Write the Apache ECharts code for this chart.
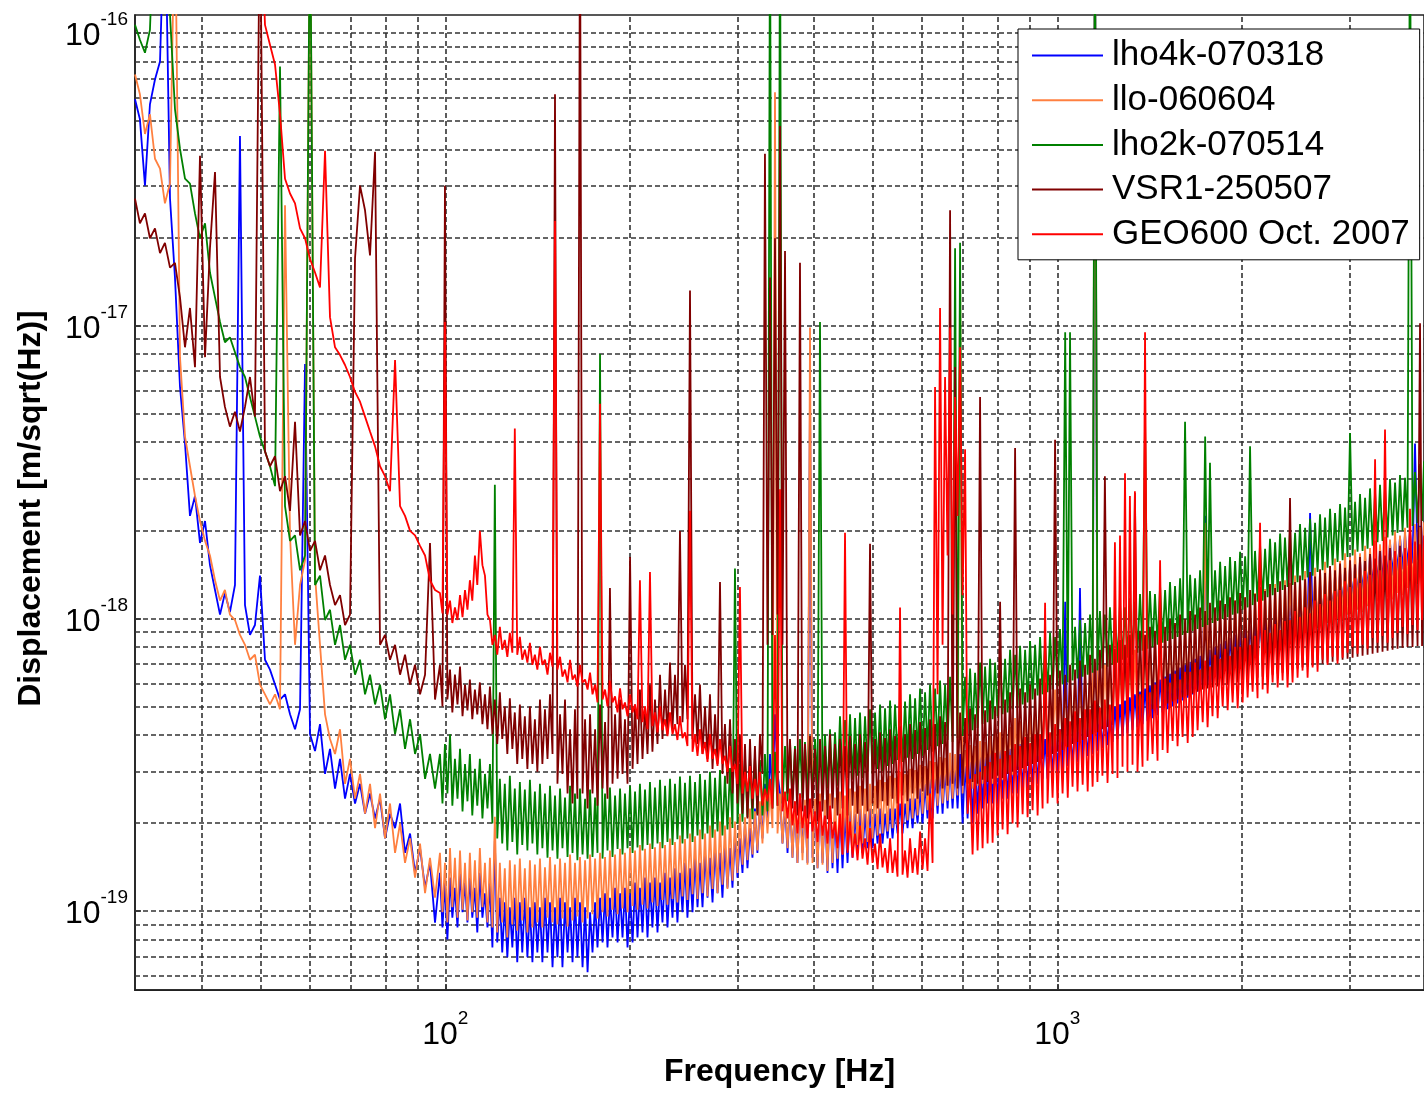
<!DOCTYPE html>
<html><head><meta charset="utf-8">
<script src="https://cdn.jsdelivr.net/npm/echarts/dist/echarts.min.js"></script>
<style>html,body{margin:0;padding:0;background:#fff}#c{width:1424px;height:1093px}</style>
</head><body><div id="c"></div>
<script>
// Frequency samples [Hz]: main grid (all curves)
const freq = [
31.12,31.70,32.31,32.92,33.55,34.19,34.83,35.50,36.17,36.86,
37.56,38.27,39.00,39.74,40.50,41.26,42.05,42.85,43.65,44.48,
45.33,46.19,47.07,47.96,48.87,49.80,50.75,51.71,52.70,53.70,
54.72,55.76,56.82,57.90,59.00,60.12,61.26,62.42,63.61,64.81,
66.05,67.30,68.58,69.88,71.21,72.56,73.94,75.34,76.78,78.23,
79.72,81.23,82.78,84.35,85.95,87.59,89.25,90.94,92.67,94.41,
96.21,
98.02,99.88,101.8,103.7,105.7,107.7,109.7,111.8,113.9,116.1,
118.3,120.5,122.8,125.1,127.5,129.9,132.4,134.9,137.5,140.1,
142.8,145.5,148.3,151.1,154.0,156.9,159.9,162.9,166.0,169.2,
172.4,175.7,179.0,182.4,185.8,189.4,193.0,196.6,200.4,204.2,
208.0,212.0,216.0,220.1,224.3,228.6,232.9,237.3,241.8,246.4,
251.1,255.9,260.7,265.7,270.7,275.9,281.1,286.4,291.9,297.4,
303.0,308.8,314.7,320.6,326.7,332.9,339.3,345.7,352.3,359.0,
365.8,372.7,379.8,387.0,394.4,401.9,409.5,417.3,425.2,433.3,
441.5,449.9,458.5,467.2,476.0,485.1,494.3,503.7,513.3,523.0,
533.0,543.1,553.4,563.9,574.6,585.6,596.7,608.0,619.5,631.3,
643.3,655.5,668.0,680.7,693.6,706.8,720.2,733.9,747.8,762.0,
776.5,791.3,806.3,821.6,837.2,853.1,869.3,885.9,902.6,919.8,
937.2,955.0,973.0,991.6,1010,1030,1049,1069,1089,1110,
1131,1152,1174,1196,1219,1242,1266,1290,1314,1339,
1365,1391,1417,1444,1472,1500,1528,1557,1587,1617,
1648,1679,1711,1744,1776,1810,1845,1880,1915,1952,
1989,2027,2065,2104,2144,2185,2226,2269,2312,2355,
2400,2446,2492,2540,2588,2637,2687,2738,2790,2843,
2897,2952,3008,3065,3123,3183,3243,3305,3367,3431,
3496,3563,3630,3699,3769,3841,3914,3973];

// Extra samples between grid points above ~98 Hz (dense noise region)
const freqMid = [
98.95,100.8,102.7,104.7,106.7,108.7,110.7,112.8,115.0,117.2,
119.4,121.6,123.9,126.3,128.7,131.1,133.6,136.2,138.8,141.4,
144.1,146.9,149.7,152.5,155.4,158.4,161.4,164.4,167.6,170.8,
174.0,177.3,180.7,184.1,187.6,191.2,194.8,198.5,202.3,206.1,
210.0,214.0,218.0,222.2,226.4,230.7,235.1,239.5,244.1,248.7,
253.5,258.3,263.2,268.2,273.3,278.5,283.7,289.1,294.6,300.2,
305.9,311.7,317.6,323.6,329.8,336.1,342.5,349.0,355.6,362.4,
369.2,376.2,383.4,390.7,398.1,405.7,413.4,421.2,429.2,437.4,
445.7,454.2,462.8,471.6,480.5,489.7,499.0,508.5,518.1,528.0,
538.0,548.2,558.6,569.2,580.1,591.1,602.3,613.7,625.4,637.3,
649.4,661.7,674.3,687.1,700.2,713.5,727.0,740.8,754.9,769.2,
783.9,798.8,813.9,829.4,845.1,861.2,877.6,894.2,911.2,928.5,
946.1,964.0,982.3,1001,1020,1040,1059,1079,1100,1121,
1142,1163,1185,1208,1231,1254,1278,1302,1327,1352,
1378,1404,1431,1458,1486,1514,1543,1572,1602,1633,
1664,1695,1728,1760,1793,1828,1863,1898,1934,1971,
2008,2046,2085,2124,2165,2206,2248,2291,2334,2378,
2423,2469,2516,2564,2613,2662,2713,2764,2817,2870,
2925,2980,3037,3094,3153,3213,3274,3336,3399,3464,
3530,3597,3665,3734,3805,3878,3944];

// Displacement in units of 1e-19 m/sqrt(Hz); *_mid arrays go with freqMid
const lho4k = [
594,508,301,571,694,800,3000,272,146,61.8,
39.6,22.4,26.2,18.1,21.5,15.2,12.5,10.3,12.2,10.5,
13.0,445,11.1,8.78,9.49,14.0,7.22,6.68,5.94,5.28,
5.50,4.70,4.18,4.89,74.0,4.02,3.52,4.35,2.94,3.58,
2.62,3.31,2.42,2.94,2.33,2.72,2.15,2.52,2.07,2.42,
1.77,2.15,1.92,2.33,1.58,1.84,1.35,1.64,1.20,1.46,
0.913,
1.35,1.25,1.30,1.20,1.35,1.25,1.30,1.20,1.35,1.15,
1.25,1.74,1.11,1.07,1.03,1.11,1.07,1.11,1.03,1.07,
1.03,1.11,1.07,1.03,1.11,1.07,1.03,1.11,1.07,1.03,
0.99,1.07,1.11,1.15,1.11,1.20,1.15,1.20,1.15,1.25,
1.20,1.30,1.25,1.30,1.25,1.35,1.30,1.40,1.35,1.46,
1.40,1.52,1.46,1.58,1.52,1.64,1.58,1.70,1.64,1.84,
1.77,1.99,1.92,2.24,2.33,2.72,3.44,4.70,2.52,2.33,
2.42,2.33,2.52,2.33,59.4,2.33,2.42,2.24,2.33,2.15,
2.24,2.15,2.24,2.15,2.24,2.15,2.24,2.15,2.24,2.15,
2.24,2.24,2.33,2.33,2.42,2.42,2.62,2.72,2.83,2.94,
3.06,3.06,3.18,3.18,3.44,3.31,3.44,3.31,3.44,3.44,
3.58,3.44,3.58,3.44,3.58,3.58,3.72,3.58,3.72,3.72,
3.87,3.87,4.02,4.02,4.18,11.4,4.18,4.35,12.7,4.42,
4.52,3000,4.70,4.77,4.89,5.0,5.08,5.24,5.37,5.50,
5.62,5.76,5.90,6.04,6.18,6.32,6.47,6.63,6.79,6.94,
7.11,7.28,7.45,22.4,7.81,7.99,8.18,8.37,8.57,8.78,
8.98,9.20,9.42,9.64,9.87,10.1,10.3,10.6,10.9,11.1,
11.4,11.6,11.9,12.2,22.9,12.8,13.1,13.4,13.7,14.0,
14.4,14.7,15.1,15.4,15.8,16.2,16.6,17.0,17.4,17.7,
18.2,18.6,19.0,19.5,19.9,39.6,20.7,21.0];
const lho4k_mid = [
0.878,0.80,0.949,0.878,0.99,0.913,0.949,0.844,0.949,0.878,
0.751,0.781,0.722,0.695,0.751,0.668,0.722,0.695,0.668,0.722,
0.668,0.722,0.643,0.695,0.643,0.722,0.668,0.695,0.643,0.618,
0.722,0.751,0.781,0.751,0.812,0.781,0.812,0.751,0.781,0.812,
0.844,0.812,0.878,0.844,0.913,0.878,0.949,0.913,0.99,0.949,
0.99,1.03,1.03,1.11,1.07,1.15,1.11,1.20,1.20,1.30,
1.35,1.40,1.52,1.58,1.77,1.99,2.52,2.94,1.70,1.58,
1.52,1.46,1.58,1.46,1.52,1.40,1.46,1.35,1.40,1.35,
1.40,1.46,1.52,1.58,1.58,1.64,1.64,1.70,1.70,1.77,
1.77,1.84,1.84,1.92,1.92,1.99,1.99,2.07,2.07,2.15,
2.15,2.24,2.24,2.24,1.99,2.07,1.99,2.15,2.24,2.33,
2.33,2.33,2.42,2.42,2.52,2.52,2.62,2.62,2.72,2.72,
2.83,2.83,2.94,2.99,3.06,3.13,3.18,3.23,3.31,3.39,
3.44,3.52,3.61,3.69,3.78,3.87,3.96,4.05,4.15,4.25,
4.35,4.45,4.56,4.67,4.77,4.89,5.0,5.12,5.24,5.36,
5.50,5.62,5.76,5.90,6.04,6.18,6.32,6.47,6.63,6.79,
6.94,7.11,7.28,7.45,7.63,7.81,7.99,8.18,8.37,8.57,
8.78,8.98,9.20,9.42,9.64,9.87,10.1,10.3,10.6,10.9,
11.1,11.4,11.6,11.9,12.2,12.5,12.8,13.1,13.4,13.7,
14.0,14.4,14.7,15.1,15.4,15.8,16.2];

const llo = [
722,618,452,528,372,344,262,306,3000,78.1,
41.8,33.1,26.2,21.5,18.4,16.4,13.5,11.5,12.5,10.3,
9.87,8.78,8.12,7.22,7.51,5.94,5.50,5.08,5.50,4.89,
258,19.2,8.12,13.0,15.8,3000,14.0,8.12,4.70,3.87,
3.44,4.18,2.72,3.31,2.42,2.94,2.15,2.72,1.92,2.52,
1.77,2.33,1.58,1.99,1.46,1.77,1.30,1.70,1.15,1.52,
1.11,
1.58,1.46,1.64,1.52,1.61,1.46,1.58,1.49,1.64,1.46,
1.52,2.10,1.46,1.40,1.49,1.44,1.51,1.40,1.49,1.44,
1.51,1.41,1.53,1.44,1.51,1.46,1.56,1.46,1.53,1.49,
1.56,1.51,1.58,1.53,1.61,1.56,1.63,1.58,1.65,1.61,
1.68,1.63,1.70,1.65,1.72,1.68,1.77,1.72,1.81,1.76,
1.84,1.80,1.90,1.84,1.96,1.90,2.02,1.96,2.09,2.02,
2.15,2.09,2.24,2.19,2.37,2.52,2.62,628,2.52,2.42,
2.42,2.37,2.48,2.40,98.7,2.42,2.52,2.40,2.52,2.44,
2.56,2.48,2.62,2.56,2.68,2.62,2.72,2.68,2.81,2.76,
2.90,2.85,2.99,2.94,3.06,3.03,3.16,3.13,3.26,3.23,
3.36,3.34,3.47,3.44,152,3.55,3.69,3.66,3.81,3.78,
3.96,4.15,4.08,4.35,4.25,4.56,4.45,4.77,4.67,5.0,
5.16,5.50,5.37,5.71,5.59,5.94,5.80,6.18,6.04,6.42,
6.27,3000,6.52,6.94,6.79,7.22,7.06,7.51,7.34,7.81,
7.63,8.12,7.93,8.44,8.25,8.78,8.57,9.13,8.92,9.49,
9.27,9.87,9.64,21.2,9.95,10.7,10.3,11.0,10.7,11.5,
11.1,11.8,11.5,12.2,11.8,12.6,12.3,13.1,12.7,13.5,
13.2,14.0,13.6,14.5,14.0,14.9,14.6,15.6,15.1,16.0,
15.7,16.7,16.2,17.2,16.7,17.7,17.4,18.4,17.9,19.0,
18.6,19.8,19.2,20.4,19.8,21.0,20.5,21.3];
const llo_mid = [
0.99,0.913,1.03,0.949,1.01,0.928,0.99,0.949,1.03,0.913,
0.878,0.844,0.913,0.812,0.899,0.857,0.928,0.844,0.878,0.913,
0.878,0.949,0.913,0.899,0.942,0.885,0.928,0.957,0.913,0.942,
0.975,0.942,0.99,0.957,1.01,0.975,1.02,0.99,1.04,1.01,
1.05,1.02,1.07,1.04,1.09,1.05,1.10,1.07,1.12,1.09,
1.14,1.10,1.15,1.12,1.19,1.15,1.23,1.19,1.27,1.35,
1.44,1.49,1.56,1.61,1.70,1.84,1.92,1.84,1.70,1.64,
1.52,1.46,1.49,1.44,1.46,1.40,1.44,1.37,1.46,1.51,
1.56,1.61,1.64,1.68,1.70,1.72,1.77,1.81,1.84,1.87,
1.92,1.96,1.99,2.04,2.07,2.12,2.15,2.21,2.24,2.29,
2.33,2.38,2.42,2.48,2.52,2.58,2.62,2.68,2.72,2.79,
2.72,2.85,2.81,2.97,2.92,3.11,3.06,3.23,3.18,3.39,
3.58,3.72,3.66,3.84,3.78,3.96,3.90,4.08,4.02,4.22,
4.15,4.35,4.28,4.52,4.45,4.67,4.60,4.85,4.77,5.0,
4.93,5.16,5.08,5.37,5.28,5.63,5.54,5.76,5.67,5.94,
5.85,6.13,6.04,6.37,6.27,6.57,6.47,6.84,6.74,7.06,
6.94,7.28,7.17,7.57,7.45,7.81,7.69,8.12,7.99,8.37,
8.25,8.64,8.51,8.98,8.85,9.27,9.13,9.64,9.49,9.95,
9.80,10.3,10.1,10.7,10.5,11.0,10.9,11.5,11.3,11.8,
11.6,12.2,12.0,12.7,12.5,13.1,12.9];

const lho2k = [
1067,949,857,1026,3000,3000,3000,1153,550,402,
318,306,242,199,224,152,125,103,87.8,91.3,
81.2,72.2,66.8,57.1,48.9,41.8,37.2,33.1,28.3,769,
24.2,18.4,19.2,14.6,16.4,3000,13.0,14.0,9.87,10.7,
8.12,9.49,7.22,8.12,6.42,7.22,5.50,6.42,5.08,5.94,
4.52,5.50,4.02,4.89,3.58,4.52,3.44,4.02,2.83,3.44,
2.62,
3.44,3.72,4.02,3.31,3.58,3.18,3.44,3.06,3.31,2.94,
3.18,28.6,2.83,2.72,2.90,2.62,2.76,2.60,2.81,2.56,
2.72,2.52,2.68,2.48,2.62,2.44,2.68,2.52,2.62,2.42,
2.60,2.44,80.0,2.52,2.64,2.48,2.62,2.52,2.68,2.56,
2.72,2.60,2.76,2.64,2.81,2.68,2.83,2.72,2.88,2.74,
2.90,2.76,2.94,2.81,2.99,2.85,3.03,2.90,3.08,14.8,
3.18,3.31,3.23,3.39,3.28,3.44,3000,3.50,3000,3.66,
3.78,3.66,3.87,3.78,3.96,3.87,103,4.02,4.18,4.08,
4.63,4.49,4.70,4.56,4.77,4.63,4.89,4.77,5.08,4.93,
5.24,5.08,5.37,5.20,5.50,5.33,5.76,5.59,5.94,5.76,
6.13,5.94,6.32,184,192,6.32,6.74,6.52,7.06,6.84,
7.28,7.06,7.51,7.28,7.81,7.51,8.06,7.81,8.37,8.12,
8.64,8.37,8.92,8.64,9.20,94.9,94.9,9.35,9.87,9.64,
10.3,3000,10.6,10.3,10.9,10.6,11.3,10.9,11.7,11.4,
12.1,47.7,12.4,12.1,12.9,12.5,13.3,12.9,13.7,47.0,
14.1,13.7,14.6,41.8,34.0,14.6,15.6,15.1,16.2,15.7,
16.9,16.3,38.7,17.0,17.9,17.3,18.7,18.2,19.5,18.9,
20.1,19.6,21.0,20.4,21.9,21.2,22.7,22.1,23.7,22.9,
24.6,23.9,43.0,25.0,26.6,25.8,27.8,27.0,28.6,27.9,
29.9,29.1,30.9,30.2,3000,31.6,33.7,34.4];
const lho2k_mid = [
2.33,2.52,2.29,2.42,2.19,2.37,2.12,2.29,2.07,2.24,
1.99,1.77,1.70,1.61,1.72,1.56,1.68,1.61,1.70,1.56,
1.64,1.52,1.61,1.51,1.64,1.53,1.58,1.49,1.56,1.51,
1.53,1.58,1.51,1.61,1.53,1.63,1.56,1.64,1.58,1.65,
1.61,1.68,1.63,1.70,1.64,1.72,1.68,1.76,1.70,1.77,
1.72,1.81,1.76,1.84,1.78,1.87,1.81,1.90,1.92,1.99,
2.02,2.09,2.06,2.15,2.12,2.19,2.24,2.29,2.33,2.37,
2.40,2.48,2.44,2.52,2.48,2.56,2.52,2.62,2.58,2.68,
2.76,2.85,2.81,2.90,2.85,2.99,2.94,3.06,3.01,3.13,
3.18,3.28,3.23,3.34,3.31,3.44,3.39,3.55,3.50,3.66,
3.72,3.84,3.78,3.90,3.96,4.02,4.15,4.22,4.35,4.42,
4.52,4.63,4.70,4.77,4.89,5.0,5.08,5.16,5.28,5.45,
5.50,5.59,5.71,5.85,5.94,6.04,6.13,6.23,6.32,6.42,
6.52,6.63,6.74,6.84,6.94,7.06,7.22,7.34,7.51,7.63,
7.75,7.87,7.99,8.12,8.25,8.37,8.51,8.64,8.78,8.92,
9.06,9.20,9.35,9.49,9.64,9.80,9.95,10.1,10.3,10.4,
10.7,10.9,11.1,11.4,11.5,11.8,12.0,12.3,12.5,12.8,
13.0,13.3,13.5,13.8,14.0,14.4,14.6,14.9,15.2,15.6,
15.8,16.2,16.4,16.9,17.0,17.3,17.7,18.2,18.4,18.9,
19.2,19.6,19.9,20.4,20.7,21.2,21.5];

const vsr1 = [
272,224,242,199,215,177,192,158,164,125,
84.4,115,72.2,381,78.1,184,335,66.8,52.8,45.2,
50.8,43.5,52.8,66.8,48.9,3000,37.2,33.1,35.8,27.2,
30.6,23.3,47.0,19.2,21.5,17.0,18.4,14.6,16.4,13.0,
11.1,12.0,9.49,10.3,170,301,248,174,393,8.12,
8.78,7.22,8.12,6.42,7.51,5.94,6.94,5.50,6.42,18.1,
5.28,
6.94,301,6.68,6.42,6.84,5.94,6.18,5.71,6.04,5.50,
5.85,5.28,5.59,5.0,5.33,4.77,5.08,4.63,5.0,4.52,
5.28,4.89,5.50,618,4.70,5.28,4.18,4.89,3000,4.52,
4.70,4.18,5.08,4.42,12.7,4.70,5.28,4.52,16.2,5.08,
5.71,5.0,5.94,5.28,6.42,5.71,7.06,6.42,19.9,6.94,
132,5.50,5.94,5.0,5.50,4.70,13.3,4.35,4.52,3.87,
4.02,3.72,3.87,3.66,4.02,387,146,199,481,180,
3.87,3.58,164,3.72,3.96,3.58,3.87,3.66,4.02,3.72,
3.87,3.66,3.96,3.72,4.02,3.78,18.0,3.87,4.08,3.90,
4.18,3.96,4.28,4.02,4.35,4.15,4.42,4.22,4.52,4.35,
4.63,4.42,248,72.2,4.77,4.56,4.93,4.70,57.1,4.85,
5.24,5.0,11.4,5.28,5.59,38.2,5.76,5.59,5.94,5.76,
6.23,6.04,6.42,40.8,6.63,6.42,6.94,6.68,7.17,6.94,
7.51,7.28,7.81,30.6,8.12,7.87,8.44,8.12,8.78,26.8,
9.06,8.78,9.35,9.06,9.64,9.35,9.95,9.64,10.3,9.95,
10.6,10.3,10.9,10.6,11.3,10.9,11.5,11.2,11.8,11.5,
12.2,11.8,12.5,12.1,12.8,12.4,13.1,12.7,13.4,13.0,
25.8,13.3,14.0,13.6,14.4,13.9,14.7,14.3,15.1,14.6,
15.4,14.9,15.8,15.3,16.2,15.7,16.6,16.0,17.0,16.4,
17.4,16.9,17.7,17.2,18.2,17.6,102,18.4];
const vsr1_mid = [
5.0,5.28,4.77,5.08,4.63,4.85,4.52,4.70,4.35,4.18,
4.02,3.72,3.87,3.44,3.58,3.18,3.31,3.06,3.18,2.99,
3.18,3.31,3.44,2.72,2.94,2.52,2.33,2.42,2.52,2.24,
2.52,2.29,2.62,2.42,2.72,2.83,2.94,2.72,3.06,3.18,
3.31,3.44,3.50,3.72,3.87,4.02,4.18,4.35,4.42,4.52,
3.87,3.72,3.44,3.31,3.06,3.18,2.94,2.72,2.52,2.33,
2.15,2.07,2.24,2.12,2.94,8.12,8.78,10.3,8.12,2.52,
2.24,2.12,2.19,2.07,2.24,2.02,2.19,2.06,2.24,2.12,
2.24,2.12,2.29,2.15,2.29,2.19,2.33,2.24,2.37,2.29,
2.42,2.33,2.48,2.37,2.52,2.42,2.56,2.48,2.62,2.52,
2.62,2.68,2.72,2.62,2.68,2.72,2.76,2.72,2.81,2.76,
2.83,2.90,2.85,2.94,2.99,3.03,3.08,3.13,3.18,3.23,
3.31,3.36,3.44,3.50,3.55,3.63,3.72,3.78,3.84,3.93,
4.02,4.08,4.18,4.25,4.32,4.38,4.45,4.52,4.60,4.67,
4.74,4.81,4.89,4.96,5.04,5.12,5.20,5.28,5.37,5.45,
5.54,5.62,5.71,5.76,5.80,5.85,5.90,5.94,5.99,6.04,
6.13,6.18,6.23,6.27,6.32,6.37,6.42,6.47,6.52,6.57,
6.68,6.74,6.79,6.84,6.89,6.94,7.00,7.06,7.11,7.17,
7.22,7.28,7.34,7.39,7.45,7.51,7.57,7.63,7.69,7.75,
7.81,7.87,7.93,7.99,7.99,8.05,8.05];

const geo600 = [
3000,3000,3000,3000,3000,3000,3000,3000,3000,3000,
3000,3000,3000,3000,3000,3000,3000,3000,3000,3000,
3000,3000,3000,3000,3000,3000,1067,913,781,528,
318,283,262,215,199,169,152,135,396,107,
84.4,79.4,73.4,66.8,59.4,55.0,48.9,43.5,38.7,33.1,
30.6,27.2,76.3,24.2,22.4,19.9,19.2,17.7,16.4,13.5,
12.5,
12.2,103,11.5,10.9,12.0,12.5,13.5,16.4,19.9,14.0,
9.87,8.78,9.35,8.44,8.92,44.5,8.64,7.81,8.25,7.51,
7.99,7.22,7.63,228,7.39,6.68,7.22,6.42,6.94,6.18,
6.52,5.94,54.1,5.71,6.13,5.41,5.76,5.16,5.50,5.08,
13.5,5.0,14.4,4.77,5.0,4.52,4.77,4.35,4.63,4.08,
23.3,4.02,4.18,3.78,4.02,3.58,3.87,3.39,3.66,3.18,
12.8,2.99,3.13,2.83,2.99,2.62,2.83,8.78,27.6,2.56,
2.62,2.37,2.52,2.29,2.42,2.19,2.37,2.12,2.29,2.02,
2.15,19.6,2.02,1.84,1.96,1.77,1.92,1.70,1.84,1.64,
1.77,1.61,10.9,1.61,1.77,1.64,1.87,1.77,2.52,61.8,
115,66.8,98.7,57.1,84.4,37.8,2.83,2.94,2.99,3.13,
3.23,3.47,3.31,3.52,3.41,3.72,3.66,3.93,3.75,4.02,
4.02,11.3,4.08,4.35,4.18,4.56,4.45,4.81,4.56,4.89,
4.89,5.24,4.96,5.28,5.08,18.2,19.2,31.3,26.2,27.2,
5.50,94.9,5.59,5.94,15.8,6.23,6.04,6.47,6.18,6.57,
6.57,7.06,6.68,7.17,6.84,7.51,7.28,7.87,7.45,7.99,
7.99,8.57,8.12,8.71,21.2,9.13,8.92,9.56,9.13,9.80,
9.87,10.6,10.1,10.9,10.4,11.5,11.2,12.1,11.5,12.4,
12.5,13.4,12.8,13.7,13.2,14.5,14.1,35.0,14.6,44.2,
15.8,17.0,16.2,17.4,23.7,18.3,17.9,19.2];
const geo600_mid = [
10.4,10.3,9.64,9.87,10.1,10.7,11.5,13.0,15.2,10.3,
8.12,7.51,7.81,7.39,7.63,7.51,7.22,7.06,6.94,6.68,
6.94,6.42,6.84,6.68,6.32,6.04,6.18,5.85,6.04,5.71,
5.50,5.16,5.28,5.0,5.16,4.77,4.89,4.63,4.77,4.52,
4.42,4.18,4.28,4.08,4.15,3.96,4.02,3.84,3.90,3.66,
3.50,3.39,3.44,3.23,3.31,3.13,3.18,2.99,2.99,2.72,
2.52,2.56,2.42,2.48,2.29,2.37,2.24,2.29,2.19,2.07,
1.96,1.84,1.92,1.77,1.87,1.72,1.81,1.70,1.77,1.64,
1.56,1.58,1.52,1.49,1.51,1.44,1.46,1.39,1.41,1.35,
1.35,1.31,1.33,1.30,1.35,1.33,1.39,1.37,1.46,5.50,
8.12,16.4,10.3,22.4,12.0,2.15,1.56,1.61,1.64,1.70,
1.71,1.81,1.90,1.83,1.99,1.93,2.14,2.09,2.21,2.12,
2.24,2.33,2.44,2.33,2.52,2.44,2.66,2.56,2.70,2.56,
2.66,2.76,2.90,2.74,2.94,2.85,3.11,2.99,3.16,2.99,
3.11,3.26,3.44,3.26,3.55,3.47,3.81,3.66,3.93,3.75,
3.93,4.15,4.42,4.25,4.63,4.56,5.0,4.85,5.16,4.93,
5.16,5.37,5.62,5.33,5.71,5.54,6.04,5.80,6.13,5.80,
6.04,6.27,6.63,6.27,6.79,6.57,7.22,6.94,7.39,7.00,
7.34,7.63,7.99,7.57,8.12,7.87,8.57,8.25,8.71,8.25,
8.57,8.92,9.35,8.85,9.49,9.13,9.87];

const seriesNames = ['lho4k-070318','llo-060604','lho2k-070514','VSR1-250507','GEO600 Oct. 2007'];
const seriesColors = ['#0000ff','#ff8040','#008000','#800000','#ff0000'];
const seriesGrid = [lho4k, llo, lho2k, vsr1, geo600];
const seriesMid = [lho4k_mid, llo_mid, lho2k_mid, vsr1_mid, geo600_mid];
const UNIT = 1e-19;

// Dashed grid lines (major + minor decades)
const xGridLines = [40,50,60,70,80,90,100,200,300,400,500,600,700,800,900,1000,2000,3000];
const yGridLines = [6e-20,7e-20,8e-20,9e-20,
  1e-19,2e-19,3e-19,4e-19,5e-19,6e-19,7e-19,8e-19,9e-19,
  1e-18,2e-18,3e-18,4e-18,5e-18,6e-18,7e-18,8e-18,9e-18,
  1e-17,2e-17,3e-17,4e-17,5e-17,6e-17,7e-17,8e-17,9e-17,1e-16];

const xRange = [31.12, 3973];
const yRange = [5.366e-20, 1.153e-16];

const FONT = '"Liberation Sans", Arial, Helvetica, sans-serif';

function buildCurve(grid, mid){
  const out = [];
  const start = freq.length - freqMid.length - 1;
  for (let i = 0; i < freq.length; i++){
    out.push([freq[i], grid[i] * UNIT]);
    const j = i - start;
    if (j >= 0 && j < freqMid.length) out.push([freqMid[j], mid[j] * UNIT]);
  }
  return out;
}

function expLabel(v){
  const e = Math.log10(v); const r = Math.round(e);
  if (Math.abs(e - r) > 1e-6) return '';
  return '{b|10}{e|' + r + '}';
}
const rich = {
  b: {fontSize: 32, lineHeight: 42, verticalAlign: 'bottom', fontFamily: FONT, color: '#000'},
  e: {fontSize: 19, lineHeight: 20, verticalAlign: 'top', fontFamily: FONT, color: '#000'}
};

const chart = echarts.init(document.getElementById('c'), null, {renderer: 'canvas'});

const series = seriesGrid.map((vals, k) => ({
  name: seriesNames[k],
  type: 'line',
  data: buildCurve(vals, seriesMid[k]),
  showSymbol: false,
  symbol: 'none',
  color: seriesColors[k],
  lineStyle: {width: 1.8, color: seriesColors[k]},
  clip: true,
  z: 3,
  animation: false,
  emphasis: {disabled: true},
  silent: true
}));

const gridLineData = xGridLines.map(v => [{coord: [v, yRange[0]]}, {coord: [v, yRange[1]]}])
  .concat(yGridLines.map(v => [{coord: [xRange[0], v]}, {coord: [xRange[1], v]}]));

series.unshift({
  type: 'line', data: [], silent: true, z: 1, animation: false,
  markLine: {
    silent: true, z: 1, animation: false, symbol: ['none','none'],
    label: {show: false},
    lineStyle: {color: '#333', type: [5, 3], width: 1.6},
    emphasis: {disabled: true},
    data: gridLineData
  }
});

chart.setOption({
  animation: false,
  backgroundColor: '#ffffff',
  grid: {left: 135, right: 0, top: 15, bottom: 95, show: true, borderColor: '#222', borderWidth: 1.6, backgroundColor: 'rgba(0,0,0,0)'},
  xAxis: {
    type: 'log', logBase: 10, min: xRange[0], max: xRange[1],
    name: 'Frequency [Hz]', nameLocation: 'middle', nameGap: 56,
    nameTextStyle: {fontFamily: FONT, fontWeight: 'bold', fontSize: 32, color: '#000'},
    axisLine: {show: true, lineStyle: {color: '#222', width: 1.6}},
    axisTick: {show: true, inside: true, length: 6, lineStyle: {color: '#222', width: 1.6}},
    splitLine: {show: false}, minorTick: {show: false},
    axisLabel: {formatter: expLabel, rich: rich, margin: 19, showMinLabel: false, showMaxLabel: false, hideOverlap: false}
  },
  yAxis: {
    type: 'log', logBase: 10, min: yRange[0], max: yRange[1],
    name: 'Displacement [m/sqrt(Hz)]', nameLocation: 'middle', nameGap: 88,
    nameTextStyle: {fontFamily: FONT, fontWeight: 'bold', fontSize: 32, color: '#000', padding: [0, 12, 0, 0]},
    axisLine: {show: true, lineStyle: {color: '#222', width: 1.6}},
    axisTick: {show: true, inside: true, length: 6, lineStyle: {color: '#222', width: 1.6}},
    splitLine: {show: false}, minorTick: {show: false},
    axisLabel: {formatter: expLabel, rich: rich, margin: 7, padding: [0, 0, 3, 0], showMinLabel: false, showMaxLabel: false, hideOverlap: false}
  },
  legend: {
    data: seriesNames, orient: 'vertical', left: 1018, top: 29,
    padding: [9, 10, 8, 14], itemGap: 9.7, itemWidth: 71, itemHeight: 2, icon: 'rect',
    backgroundColor: '#fff', borderColor: '#000', borderWidth: 1, borderRadius: 0,
    selectedMode: false,
    textStyle: {fontFamily: FONT, fontSize: 35, lineHeight: 35, color: '#000', padding: [0, 0, 0, 4]}
  },
  series: series
});
</script>
</body></html>
